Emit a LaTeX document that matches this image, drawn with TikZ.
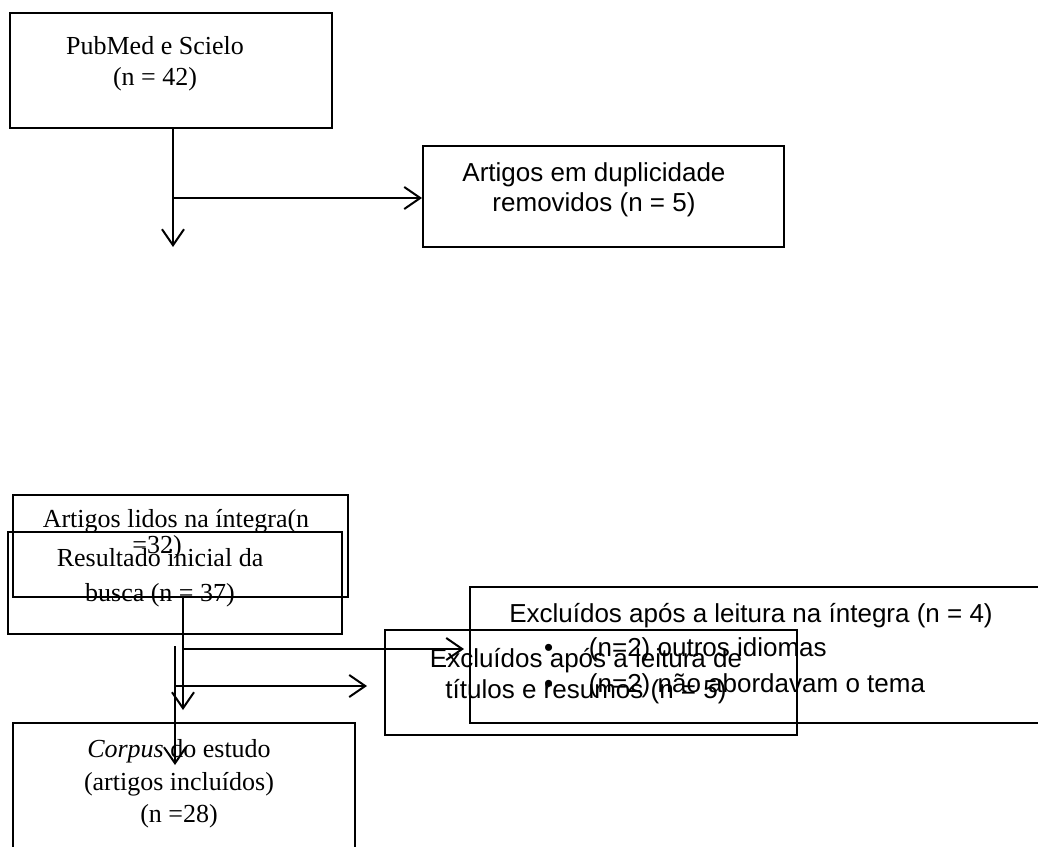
\documentclass[tikz,border=0pt]{standalone}
\usepackage{fontspec}
\setmainfont{Liberation Serif}
\setsansfont{Liberation Sans}
\usetikzlibrary{arrows.meta, fit}

\begin{document}
\begin{tikzpicture}[x=0.5pt, y=-0.5pt, line width=1pt, >={Straight Barb[length=8pt,width=11pt]},
    box/.style={draw, inner sep=0pt},
    txt/.style={align=center, inner sep=0pt, font=\fontsize{13pt}{15.5pt}\selectfont},
    stxt/.style={align=center, inner sep=0pt, font=\sffamily\fontsize{13pt}{15pt}\selectfont}]
  \useasboundingbox (0,0) rectangle (1038,846);

  % first stage
  \node[box, fit={(10,13) (332,128)}] (pub) {};
  \node[txt] at (155,64) {PubMed e Scielo\\(n = 42)};
  \node[box, fit={(423,146) (784,247)}] (dup) {};
  \node[stxt] at (594,190) {Artigos em duplicidade\\removidos (n = 5)};
  \coordinate (j1) at (173,198);
  \coordinate (end1) at (173,247);
  \draw[->] (pub.south -| j1) -- (end1);
  \draw[->] (j1) -- (j1 -| dup.west);

  % boxes on top of each other
  \node[box, fit={(13,495) (348,597)}] (lidos) {};
  \node[txt, font=\fontsize{13pt}{11.5pt}\selectfont] at (176,534) {Artigos lidos na íntegra(n\\\hspace*{-19pt}=32)};
  \node[box, fit={(8,532) (342,634)}] (result) {};
  \node[txt, font=\fontsize{13pt}{17.5pt}\selectfont] at (160,578) {Resultado inicial da\\busca (n = 37)};

  \node[box, fit={(470,587) (1045,723)}] (integra) {};
  \node[stxt] at (751,616) {Excluídos após a leitura na íntegra (n = 4)};
  \node[stxt, align=left, anchor=west, font=\sffamily\fontsize{13pt}{18pt}\selectfont] at (543,668)
    {\makebox[22.5pt][l]{•}(n=2) outros idiomas\\\makebox[22.5pt][l]{•}(n=2) não abordavam o tema};
  \node[box, fit={(385,630) (797,735)}] (titulos) {};
  \node[stxt, font=\sffamily\fontsize{13pt}{15.5pt}\selectfont] at (586,676) {Excluídos após a leitura de\\títulos e resumos (n = 5)};

  \node[box, fit={(13,723) (355,870)}] (corpus) {};
  \node[txt, font=\fontsize{13pt}{16.25pt}\selectfont] at (179,784) {\textit{Corpus} do estudo\\(artigos incluídos)\\(n =28)};

  % connectors
  \coordinate (j2) at (183,649);
  \coordinate (end2) at (183,710);
  \draw[->] (lidos.south -| j2) -- (end2);
  \draw[->, shorten >=2.5pt] (j2) -- (j2 -| integra.west);
  \coordinate (j3) at (175,686);
  \coordinate (end3) at (175,765);
  \draw[->, shorten <=5.5pt] (result.south -| j3) -- (end3);
  \draw[->, shorten >=8.5pt] (j3) -- (j3 -| titulos.west);
\end{tikzpicture}
\end{document}
